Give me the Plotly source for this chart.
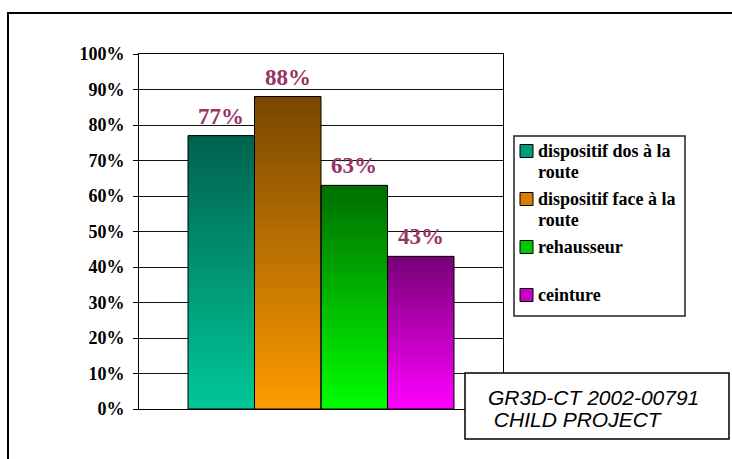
import plotly.graph_objects as go

# ---- data ----
categories = ["dispositif dos à la<br>route", "dispositif face à la<br>route", "rehausseur", "ceinture"]
values = [0.77, 0.88, 0.63, 0.43]
top_colors = [(0, 98, 78), (120, 72, 0), (0, 110, 0), (118, 0, 118)]
bottom_colors = [(0, 200, 152), (255, 155, 0), (0, 255, 0), (255, 0, 255)]
legend_colors = ["#009A7C", "#D87E00", "#00C800", "#C800C8"]
label_color = "#993366"

W, H = 732, 459
PL, PR, PT, PB = 139, 503, 54, 409  # plot area in px


def xp(px):
    return (px - PL) / (PR - PL)


def yp(py):
    return (PB - py) / (PB - PT)


def mix(c0, c1, t):
    return "rgb(%d,%d,%d)" % tuple(round(a + (b - a) * t) for a, b in zip(c0, c1))


fig = go.Figure()
N = 120
for i, v in enumerate(values):
    bases = [v * k / N for k in range(N)]
    ys = [v - b for b in bases]
    cols = [mix(bottom_colors[i], top_colors[i], (k + 0.5) / N) for k in range(N)]
    fig.add_trace(go.Bar(x=[i] * N, y=ys, base=bases, width=1,
                         marker=dict(color=cols, line=dict(width=0)),
                         showlegend=False, hoverinfo="skip"))
for i, v in enumerate(values):
    fig.add_trace(go.Bar(x=[i], y=[v], width=1,
                         marker=dict(color="rgba(0,0,0,0)", line=dict(color="black", width=1)),
                         showlegend=False, name=categories[i].replace("<br>", " ")))

for i, v in enumerate(values):
    fig.add_annotation(x=i, y=v, text="%d%%" % round(v * 100), showarrow=False,
                       yanchor="bottom", yshift=5,
                       font=dict(family="Liberation Serif", size=23, color=label_color, weight="bold"))

shapes = [
    dict(type="rect", xref="paper", yref="paper", x0=xp(8), x1=xp(760), y0=yp(13), y1=yp(480),
         line=dict(color="black", width=2), fillcolor="rgba(0,0,0,0)", layer="above"),
    dict(type="rect", xref="paper", yref="paper", x0=xp(514), x1=xp(685), y0=yp(136), y1=yp(316),
         line=dict(color="#222", width=1.5), fillcolor="rgba(0,0,0,0)", layer="above"),
    dict(type="rect", xref="paper", yref="paper", x0=xp(465), x1=xp(729), y0=yp(373), y1=yp(439),
         line=dict(color="black", width=1.5), fillcolor="white", layer="above"),
]

# legend (drawn in the reference layout: symbol tight against text)
item_tops = [151, 199, 247, 295]
line_step = 21
for i, name in enumerate(categories):
    cy = item_tops[i]
    shapes.append(dict(type="rect", xref="paper", yref="paper",
                       x0=xp(520), x1=xp(533), y0=yp(cy - 6.5), y1=yp(cy + 6.5),
                       line=dict(color="black", width=1), fillcolor=legend_colors[i], layer="above"))
    for j, line in enumerate(name.split("<br>")):
        fig.add_annotation(xref="paper", yref="paper", x=xp(536), y=yp(cy + j * line_step),
                           text=line, showarrow=False, xanchor="left", yanchor="middle",
                           font=dict(family="Liberation Serif", size=18, color="black", weight="bold"))

fig.update_layout(
    width=W, height=H,
    margin=dict(l=PL, r=W - PR, t=PT, b=H - PB, pad=0),
    paper_bgcolor="white", plot_bgcolor="white",
    barmode="overlay",
    showlegend=False,
    xaxis=dict(range=[-1.237, 4.237], showticklabels=False, showgrid=False, zeroline=False,
               showline=True, linecolor="black", linewidth=1, mirror=True, ticks=""),
    yaxis=dict(range=[0, 1], dtick=0.1, tickformat=".0%", showgrid=True, gridcolor="#111",
               gridwidth=1, zeroline=False, showline=True, linecolor="black", linewidth=1,
               mirror=True, ticks="outside", ticklen=5, tickcolor="black", ticklabelstandoff=5,
               tickfont=dict(family="Liberation Serif", size=18, color="black", weight="bold")),
    shapes=shapes,
)
fig.add_annotation(xref="paper", yref="paper", x=xp(486), y=yp(397), text="GR3D-CT 2002-00791",
                   showarrow=False, xanchor="left", yanchor="middle",
                   font=dict(family="Liberation Sans", size=21, color="black", style="italic"))
fig.add_annotation(xref="paper", yref="paper", x=xp(486), y=yp(419), text="\u00a0CHILD PROJECT",
                   showarrow=False, xanchor="left", yanchor="middle",
                   font=dict(family="Liberation Sans", size=21, color="black", style="italic"))

fig.write_html("out.html")
